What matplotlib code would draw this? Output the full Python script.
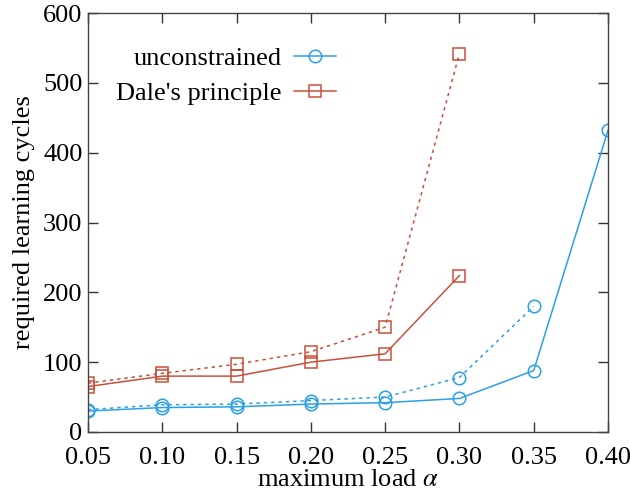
import matplotlib
matplotlib.use("Agg")
import matplotlib.pyplot as plt

alpha = [0.05, 0.10, 0.15, 0.20, 0.25, 0.30, 0.35, 0.40]

# unconstrained (solid = with legend, dotted = companion run)
unc_solid = [30, 35, 36, 40, 42, 48, 88, 432]
unc_dotted = [32, 39, 40, 45, 50, 78, 180]

# Dale's principle
dale_solid = [65, 80, 80, 100, 112, 224]
dale_dotted = [70, 84, 97, 115, 150, 542]

xticks = [0.05, 0.10, 0.15, 0.20, 0.25, 0.30, 0.35, 0.40]
yticks = [0, 100, 200, 300, 400, 500, 600]

BLUE = "#2aa0e8"
RED = "#c9503a"
FS = 19

plt.rcParams["font.family"] = ["Liberation Serif", "DejaVu Serif"]
plt.rcParams["mathtext.fontset"] = "stix"

fig = plt.figure(figsize=(6.3, 4.95), dpi=100)
ax = fig.add_axes([0.1397, 0.1273, 0.8254, 0.8464])

mk = dict(markersize=9, markerfacecolor="none", markeredgewidth=1.1, lw=1.1)
dot = (0, (2.2, 2.6))

ax.plot(alpha[:len(unc_dotted)], unc_dotted, color=BLUE, marker="o", linestyle=dot, **mk)
ax.plot(alpha[:len(dale_dotted)], dale_dotted, color=RED, marker="s", linestyle=dot, **mk)
ax.plot(alpha[:len(unc_solid)], unc_solid, color=BLUE, marker="o", label="unconstrained", **mk)
ax.plot(alpha[:len(dale_solid)], dale_solid, color=RED, marker="s", label="Dale's principle", **mk)

ax.set_xlim(0.05, 0.40)
ax.set_ylim(0, 600)
ax.set_xticks(xticks)
ax.set_xticklabels([f"{v:.2f}" for v in xticks])
ax.set_yticks(yticks)
ax.tick_params(direction="in", top=True, right=True, length=7, width=1.0,
               labelsize=FS, colors="#333333", labelcolor="black")
ax.tick_params(axis="x", pad=11)
ax.tick_params(axis="y", pad=4)
for s in ax.spines.values():
    s.set_color("#444444")
    s.set_linewidth(1.0)

ax.set_xlabel(r"maximum load $\alpha$", fontsize=FS, labelpad=0)
ax.set_ylabel("required learning cycles", fontsize=FS, labelpad=6)

leg = ax.legend(loc="upper right", bbox_to_anchor=(0.497, 0.945), frameon=False,
                markerfirst=False, fontsize=FS, handlelength=1.6,
                handletextpad=0.45, labelspacing=0.45, borderaxespad=0)
for t in leg.get_texts():
    t.set_ha("right")
leg._legend_box.align = "right"

fig.savefig("out.png", dpi=100)
